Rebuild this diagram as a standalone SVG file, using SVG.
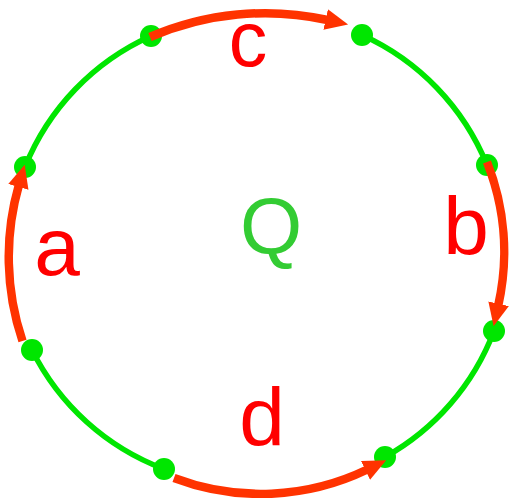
<svg xmlns="http://www.w3.org/2000/svg" width="523" height="498" viewBox="0 0 523 498">
<style>
.ring{fill:none;stroke:#00e600;stroke-width:5.5}
.dot{fill:#00e600}
.arc{fill:none;stroke:#ff3300;stroke-width:8.5;marker-end:url(#ah)}
.lbl{font-family:"Liberation Sans",Arial,sans-serif;font-size:82px;fill:#ff0000;text-anchor:middle}
.q{font-family:"Liberation Sans",Arial,sans-serif;font-size:80px;fill:#33cc33;text-anchor:middle}
</style>
<defs>
<marker id="ah" markerUnits="userSpaceOnUse" markerWidth="23" markerHeight="21" viewBox="0 0 23 21" refX="2" refY="10.5" orient="auto">
<path d="M0,0 L23,10.5 L0,21 z" fill="#ff3300"/>
</marker>
</defs>
<g id="ring">
<path class="ring" d="M362,35 A243,243 0 0 1 487,165"/>
<path class="ring" d="M494,331 A243,243 0 0 1 385,457"/>
<path class="ring" d="M164,469 A243,243 0 0 1 32,350"/>
<path class="ring" d="M25,167 A243,243 0 0 1 151,36"/>
</g>
<g id="p1"><circle class="dot" cx="151" cy="36" r="11"/></g>
<g id="p2"><circle class="dot" cx="362" cy="35" r="11"/></g>
<g id="p3"><circle class="dot" cx="487" cy="165" r="11"/></g>
<g id="p4"><circle class="dot" cx="494" cy="331" r="11"/></g>
<g id="p5"><circle class="dot" cx="385" cy="457" r="11"/></g>
<g id="p6"><circle class="dot" cx="164" cy="469" r="11"/></g>
<g id="p7"><circle class="dot" cx="32" cy="350" r="11"/></g>
<g id="p8"><circle class="dot" cx="25" cy="167" r="11"/></g>
<g id="connectors">
<path class="arc" d="M150,37 A290,290 0 0 1 327.6,20.0"/>
<path class="arc" d="M487,162 A245,245 0 0 1 498.2,305.7"/>
<path class="arc" d="M174,478 A245,245 0 0 0 367.3,469.5"/>
<path class="arc" d="M22.5,341 A262,262 0 0 1 18.9,185.0"/>
</g>
<g id="labels">
<text class="lbl" x="248" y="66" style="font-size:77px">c</text>
<text class="lbl" x="466" y="254">b</text>
<text class="lbl" x="57" y="275">a</text>
<text class="lbl" x="262" y="445">d</text>
<text class="q" x="271" y="254">Q</text>
</g>
</svg>
